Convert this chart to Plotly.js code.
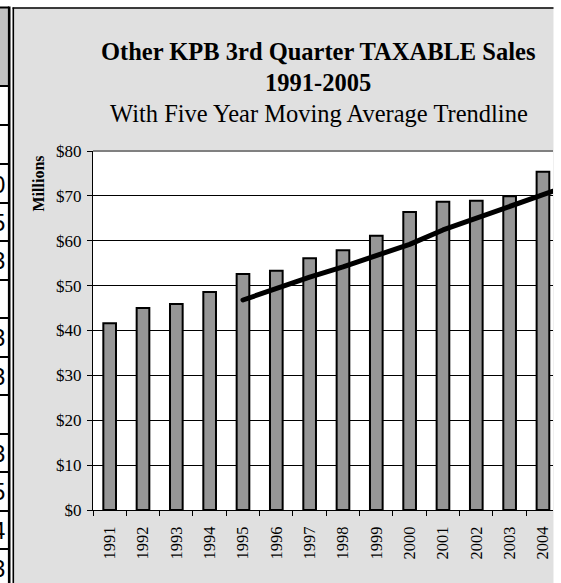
<!DOCTYPE html>
<html>
<head>
<meta charset="utf-8">
<script src="https://cdn.plot.ly/plotly-3.0.1.min.js"></script>
<style>
  html, body { margin: 0; padding: 0; background: #ffffff; }
  #chart { width: 561px; height: 583px; }
  .scatterlayer path.js-line { stroke-linecap: round; stroke-linejoin: round; }
</style>
</head>
<body>
<div id="chart"></div>
<script>
// ---- data ----
const years = ['1991','1992','1993','1994','1995','1996','1997','1998','1999','2000','2001','2002','2003','2004','2005'];
const barYears = ['1991','1992','1993','1994','1995','1996','1997','1998','1999','2000','2001','2002','2003','2004'];
const salesMillions = [41.6, 45.0, 45.9, 48.6, 52.6, 53.3, 56.1, 57.9, 61.1, 66.4, 68.7, 68.9, 69.9, 75.4];
const maYears = ['1995','1996','1997','1998','1999','2000','2001','2002','2003','2004','2005'];
const movingAverage = [46.8, 49.4, 51.9, 54.2, 56.8, 59.2, 62.4, 65.0, 67.5, 70.0, 72.9];
const titleLine1 = 'Other KPB 3rd Quarter TAXABLE Sales';
const titleLine2 = '1991-2005';
const subtitle = 'With Five Year Moving Average Trendline';
const yAxisLabel = 'Millions';
// partial digits of the neighbouring spreadsheet column (clipped at the left edge)
const sideDigits = ['0','5','3','3','3','3','5','4','3'];

// ---- layout geometry (pixels) ----
const W = 561, H = 583;
const M = {l: 93, r: 8, t: 151, b: 73};
const PW = W - M.l - M.r, PH = H - M.t - M.b;
const px = x => (x - M.l) / PW;
const py = y => (H - M.b - y) / PH;
const serif = 'Liberation Serif';

const shapes = [];
const annotations = [];

// white strips outside the chart frame
shapes.push({type:'rect', xref:'paper', yref:'paper', x0:px(553.5), x1:px(W+5), y0:py(H+5), y1:py(-5), fillcolor:'#ffffff', line:{width:0}, layer:'above'});
shapes.push({type:'rect', xref:'paper', yref:'paper', x0:px(-5), x1:px(W+5), y0:py(7.5), y1:py(-5), fillcolor:'#ffffff', line:{width:0}, layer:'above'});
shapes.push({type:'rect', xref:'paper', yref:'paper', x0:px(-5), x1:px(13), y0:py(H+5), y1:py(-5), fillcolor:'#ffffff', line:{width:0}, layer:'above'});
// spreadsheet header cell
shapes.push({type:'rect', xref:'paper', yref:'paper', x0:px(-5), x1:px(8), y0:py(86), y1:py(7.5), fillcolor:'#c0c0c0', line:{width:0}, layer:'above'});
// spreadsheet row lines
[7.5, 86, 125, 164, 203, 241, 280, 318, 357, 395, 434, 472, 511, 549].forEach(y => {
  shapes.push({type:'line', xref:'paper', yref:'paper', x0:px(-5), x1:px(9), y0:py(y), y1:py(y), line:{color:'#000', width:2}, layer:'above'});
});
// thick vertical column border
shapes.push({type:'line', xref:'paper', yref:'paper', x0:px(9.2), x1:px(9.2), y0:py(6.5), y1:py(H+5), line:{color:'#000', width:2.6}, layer:'above'});
// chart frame border (left & top)
shapes.push({type:'line', xref:'paper', yref:'paper', x0:px(13.3), x1:px(13.3), y0:py(7.5), y1:py(H+5), line:{color:'#000', width:1.6}, layer:'above'});
shapes.push({type:'line', xref:'paper', yref:'paper', x0:px(12.5), x1:px(553.5), y0:py(8), y1:py(8), line:{color:'#000', width:1.6}, layer:'above'});
// plot-area top border (grey)
shapes.push({type:'line', xref:'paper', yref:'paper', x0:0, x1:1, y0:1, y1:1, line:{color:'#808080', width:2}, layer:'above'});

// partial digits
const digitRowCenters = [184, 222, 260, 337, 376, 453, 491, 530, 568];
sideDigits.forEach((d, i) => {
  annotations.push({xref:'paper', yref:'paper', x:px(7), y:py(digitRowCenters[i]), xanchor:'right', yanchor:'middle',
    text:d, showarrow:false, font:{family:'Liberation Sans', size:24, color:'#000'}});
});

// titles
annotations.push({xref:'paper', yref:'paper', x:px(317.5), y:py(52), xanchor:'center', yanchor:'middle', showarrow:false,
  text:'<b>' + titleLine1 + '</b>', font:{family:serif, size:24.5, color:'#000'}});
annotations.push({xref:'paper', yref:'paper', x:px(317.5), y:py(83), xanchor:'center', yanchor:'middle', showarrow:false,
  text:'<b>' + titleLine2 + '</b>', font:{family:serif, size:24.5, color:'#000'}});
annotations.push({xref:'paper', yref:'paper', x:px(318.5), y:py(113), xanchor:'center', yanchor:'middle', showarrow:false,
  text:subtitle, font:{family:serif, size:24.5, color:'#000'}});
annotations.push({xref:'paper', yref:'paper', x:px(38), y:py(183.5), xanchor:'center', yanchor:'middle', showarrow:false,
  text:'<b>' + yAxisLabel + '</b>', textangle:-90, font:{family:serif, size:16, color:'#000'}});

const traces = [
  {type:'bar', x:barYears, y:salesMillions, width:0.38,
   marker:{color:'#969696', line:{color:'#000', width:2}}, hoverinfo:'skip'},
  {type:'scatter', mode:'lines', x:maYears, y:movingAverage,
   line:{color:'#000', width:5}, hoverinfo:'skip'}
];

const layout = {
  width: W, height: H,
  margin: M,
  paper_bgcolor: '#e0e0e0',
  plot_bgcolor: '#ffffff',
  showlegend: false,
  font: {family: serif, color: '#000', size: 17},
  xaxis: {
    type: 'category', categoryorder: 'array', categoryarray: years,
    range: [-0.5, -0.5 + (553 - 93) / 33.33],
    tickson: 'boundaries', ticks: 'outside', ticklen: 5, tickcolor: '#000', tickwidth: 1,
    tickangle: -90, tickfont: {family: serif, size: 16.5, color: '#000', weight: 'normal'},
    ticklabelstandoff: 9,
    showline: true, linecolor: '#000', linewidth: 1,
    showgrid: false, zeroline: false, fixedrange: true
  },
  yaxis: {
    range: [0, 80], dtick: 10, tick0: 0, tickprefix: '$',
    ticks: 'outside', ticklen: 5, tickcolor: '#000', tickwidth: 1,
    tickfont: {family: serif, size: 17, color: '#000', weight: 'normal'},
    ticklabelstandoff: 2,
    showline: true, linecolor: '#000', linewidth: 1,
    showgrid: true, gridcolor: '#000', gridwidth: 1,
    zeroline: false, fixedrange: true
  },
  shapes: shapes,
  annotations: annotations
};

Plotly.newPlot('chart', traces, layout, {displayModeBar: false, staticPlot: true});
</script>
</body>
</html>
